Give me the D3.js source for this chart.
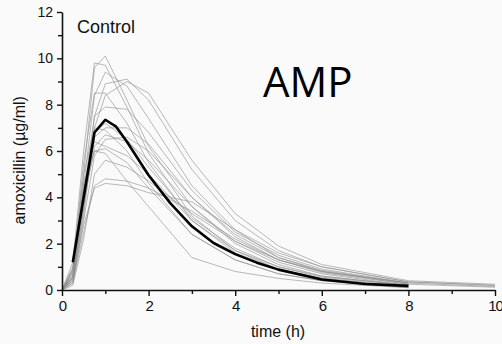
<!DOCTYPE html>
<html>
<head>
<meta charset="utf-8">
<script src="https://cdn.jsdelivr.net/npm/d3@7"></script>
<style>
  html, body { margin: 0; padding: 0; background: #fafafa; }
  svg { display: block; }
  .axis path, .axis line { stroke: #111; }
  .axis text { fill: #111; font-family: Arial, "Liberation Sans", sans-serif; }
</style>
</head>
<body>
<div id="chart"></div>
<script>
// sampling times (h) for the individual subjects
var times = [0, 0.25, 0.5, 0.75, 1, 1.5, 2, 3, 4, 5, 6, 8, 10];

// amoxicillin (µg/ml) per subject, null = not sampled
var subjects = [
    [0, 0.8, 5.0, 9.6, 10.1, 8.2, 6.2, 3.6, 2.0, 1.1, 0.6, 0.2, null],
    [0, 1.2, 6.0, 9.8, 9.7, 7.9, 5.9, 3.2, 1.7, 0.9, 0.5, 0.15, null],
    [0, 0.6, 4.5, 8.4, 9.4, 8.8, 7.4, 4.5, 2.6, 1.4, 0.8, 0.25, 0.12],
    [0, 0.5, 3.5, 7.5, 8.9, 9.1, 8.2, 5.2, 3.0, 1.7, 1.0, 0.35, 0.2],
    [0, 0.4, 3.2, 7.0, 8.4, 9.0, 8.5, 5.6, 3.3, 1.9, 1.1, 0.4, 0.25],
    [0, 0.9, 5.5, 8.5, 8.5, 7.2, 5.5, 3.0, 1.6, 0.9, 0.5, 0.15, null],
    [0, 0.7, 4.2, 7.5, 7.9, 7.8, 6.8, 4.3, 2.5, 1.5, 0.9, 0.3, null],
    [0, 1.0, 5.0, 7.0, 6.9, 6.0, 4.6, 2.4, 1.3, 0.7, 0.4, 0.1, null],
    [0, 0.5, 3.8, 6.2, 6.7, 6.4, 5.6, 3.6, 2.1, 1.2, 0.7, 0.2, null],
    [0, 0.8, 4.4, 6.4, 6.2, 5.8, 5.0, 3.0, 1.7, 1.0, 0.55, 0.2, null],
    [0, 0.3, 3.0, 5.8, 6.5, 6.6, 6.0, 4.0, 2.4, 1.4, 0.85, 0.3, 0.15],
    [0, 0.6, 4.0, 6.0, 6.1, 5.5, 4.4, 2.4, 1.3, 0.7, 0.4, 0.12, null],
    [0, 0.9, 4.6, 6.0, 5.9, 4.7, 3.6, 1.4, 0.8, 0.5, 0.3, 0.1, null],
    [0, 0.3, 2.5, 4.5, 4.8, 4.7, 4.4, 3.4, 2.2, 1.3, 0.8, 0.3, null],
    [0, 0.4, 2.8, 4.4, 4.6, 4.5, 4.2, 3.8, 2.6, 1.6, 1.0, 0.35, 0.2],
    [0, 0.2, 2.2, 5.0, 5.6, 5.3, 4.7, 3.3, 2.1, 1.3, 0.8, 0.3, null],
    [0, 0.6, 4.0, 6.8, 7.2, 6.5, 5.3, 3.1, 1.8, 1.0, 0.6, 0.2, null],
    [0, 0.5, 3.5, 6.6, 7.0, 7.0, 6.3, 4.0, 2.3, 1.3, 0.75, 0.25, null]
];

// mean curve
var meanTimes = [0.25, 0.75, 1, 1.25, 1.5, 2, 2.5, 3, 3.5, 4, 4.5, 5, 6, 7, 8];
var meanConc = [1.2, 6.8, 7.35, 7.05, 6.4, 4.95, 3.75, 2.75, 2.03, 1.55, 1.18, 0.88, 0.45, 0.26, 0.18];

var xTicks = [0, 2, 4, 6, 8, 10],
    yTicks = [0, 2, 4, 6, 8, 10, 12];

var width = 502,
    height = 344,
    margin = {top: 12, right: 7, bottom: 54, left: 62};

var svg = d3.select('#chart').append('svg')
    .attr('width', width).attr('height', height);
svg.append('rect').attr('width', width).attr('height', height).attr('fill', '#fafafa');

var x = d3.scaleLinear().domain([0, 10]).range([margin.left, width - margin.right]),
    y = d3.scaleLinear().domain([0, 12]).range([height - margin.bottom, margin.top]);

var line = d3.line()
    .defined(function(d){ return d[1] != null; })
    .x(function(d){ return x(d[0]); })
    .y(function(d){ return y(d[1]); });

var plot = svg.append('g');
plot.selectAll('path.subject')
    .data(subjects).enter().append('path')
        .attr('class', 'subject')
        .attr('d', function(s){ return line(times.map(function(t, i){ return [t, s[i]]; })); })
        .attr('fill', 'none')
        .attr('stroke', '#909090')
        .attr('stroke-opacity', 0.7)
        .attr('stroke-width', 0.9);

plot.append('path')
    .attr('d', line(meanTimes.map(function(t, i){ return [t, meanConc[i]]; })))
    .attr('fill', 'none')
    .attr('stroke', '#000')
    .attr('stroke-width', 2.6)
    .attr('stroke-linejoin', 'round');

// minor ticks first, then the major axes on top
var xMinor = svg.append('g').attr('class', 'axis')
    .attr('transform', 'translate(0,' + y(0) + ')')
    .call(d3.axisBottom(x).tickValues([1, 3, 5, 7, 9]).tickSize(4).tickFormat(''));
xMinor.select('.domain').remove();
var yMinor = svg.append('g').attr('class', 'axis')
    .attr('transform', 'translate(' + x(0) + ',0)')
    .call(d3.axisLeft(y).tickValues([1, 3, 5, 7, 9, 11]).tickSize(4).tickFormat(''));
yMinor.select('.domain').remove();

var xAxis = svg.append('g').attr('class', 'axis')
    .attr('transform', 'translate(0,' + y(0) + ')')
    .call(d3.axisBottom(x).tickValues(xTicks).tickSize(6).tickSizeOuter(0).tickPadding(4));
xAxis.selectAll('text').style('font-size', '15px').style('letter-spacing', '-1px');

var yAxis = svg.append('g').attr('class', 'axis')
    .attr('transform', 'translate(' + x(0) + ',0)')
    .call(d3.axisLeft(y).tickValues(yTicks).tickSize(5).tickSizeOuter(0).tickPadding(4));
yAxis.selectAll('text').style('font-size', '14px');

svg.selectAll('.axis .domain').attr('stroke-width', 1.6);
svg.selectAll('.axis .tick line').attr('stroke-width', 1.4);

svg.append('text')
    .attr('x', 278).attr('y', 337)
    .attr('text-anchor', 'middle')
    .style('font-family', 'Arial, "Liberation Sans", sans-serif')
    .style('font-size', '16px').style('fill', '#111')
    .text('time (h)');

svg.append('text')
    .attr('transform', 'translate(25,' + y(5.6) + ')rotate(-90)')
    .attr('text-anchor', 'middle')
    .style('font-family', 'Arial, "Liberation Sans", sans-serif')
    .style('font-size', '16px').style('fill', '#111')
    .text('amoxicillin (µg/ml)');

svg.append('text')
    .attr('x', 77).attr('y', 33)
    .style('font-family', 'Arial, "Liberation Sans", sans-serif')
    .style('font-size', '18px').style('fill', '#111')
    .text('Control');

svg.append('text')
    .attr('x', 263).attr('y', 97)
    .style('font-family', '"Open Sans", sans-serif')
    .style('font-size', '42px').style('fill', '#000')
    .text('AMP');
</script>
</body>
</html>
